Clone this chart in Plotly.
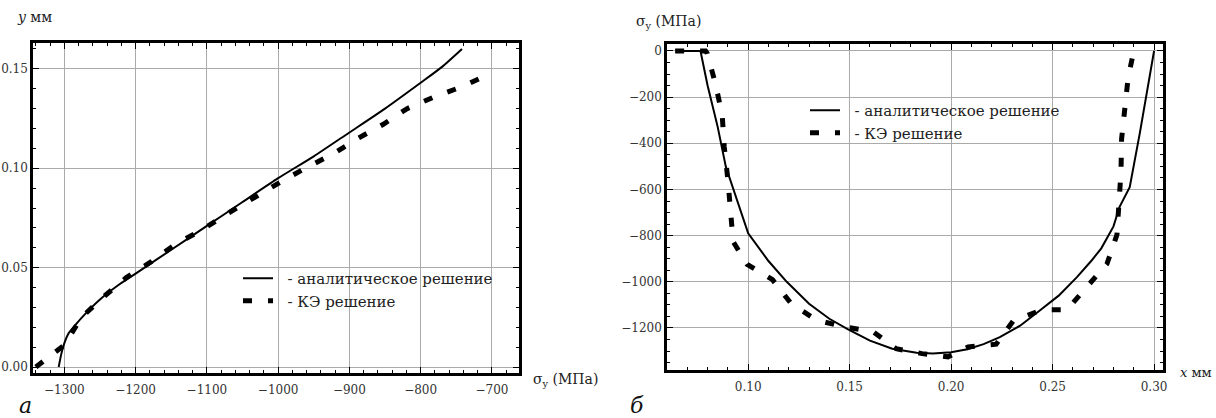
import plotly.graph_objects as go

# ---- Panel (а): y vs sigma_y ----
a_analytic_sigma = [-1308, -1304, -1300, -1294, -1285, -1270, -1250, -1225, -1200, -1150, -1100,
                    -1050, -1000, -950, -900, -850, -800, -770, -742]
a_analytic_y = [0.000, 0.007, 0.012, 0.017, 0.021, 0.027, 0.034, 0.041, 0.047, 0.059, 0.071,
                0.083, 0.095, 0.106, 0.118, 0.130, 0.143, 0.151, 0.160]
a_fe_sigma = [-1340, -1300, -1276, -1246, -1213, -1178, -1143, -1107, -1072, -1035,
              -997, -962, -924, -888, -853, -819, -780, -742, -700]
a_fe_y = [0.000, 0.011, 0.025, 0.035, 0.045, 0.053, 0.062, 0.069, 0.077, 0.085,
          0.093, 0.100, 0.107, 0.115, 0.122, 0.130, 0.136, 0.141, 0.148]

# ---- Panel (б): sigma_y vs x ----
b_analytic_x = [0.066, 0.0765, 0.080, 0.085, 0.089, 0.094, 0.100, 0.110, 0.119, 0.130,
                0.140, 0.149, 0.160, 0.171, 0.183, 0.191, 0.200, 0.208, 0.216, 0.224,
                0.234, 0.244, 0.253, 0.262, 0.269, 0.274, 0.280, 0.283, 0.288, 0.293, 0.300]
b_analytic_s = [0, 0, -150, -330, -502, -630, -790, -910, -1000, -1095,
                -1160, -1205, -1255, -1290, -1307, -1310, -1305, -1292, -1270, -1240,
                -1190, -1122, -1060, -980, -910, -855, -760, -675, -590, -355, 0]
b_fe_x = [0.064, 0.079, 0.0798, 0.0838, 0.0872, 0.0882, 0.090, 0.0911, 0.0926, 0.0995,
          0.112, 0.1212, 0.1335, 0.147, 0.1616, 0.1729, 0.1857, 0.1985, 0.2084, 0.2222,
          0.2306, 0.2448, 0.257, 0.267, 0.2768, 0.2817, 0.2837, 0.284, 0.2857, 0.2872, 0.290]
b_fe_s = [0, 0, -10, -140, -277, -415, -558, -680, -826, -925,
          -991, -1095, -1165, -1195, -1216, -1290, -1311, -1325, -1282, -1270,
          -1169, -1121, -1121, -1021, -922, -796, -524, -381, -247, -117, 0]

name_analytic = "\u00a0\u00a0- аналитическое решение"
name_fe = "\u00a0\u00a0- КЭ решение"

SERIF = "DejaVu Serif"
W, H = 1216, 418

fig = go.Figure()
fig.add_trace(go.Scatter(x=a_analytic_sigma, y=a_analytic_y, mode="lines", name=name_analytic,
                         line=dict(color="black", width=2, shape="spline", smoothing=0.6),
                         xaxis="x", yaxis="y", legend="legend"))
fig.add_trace(go.Scatter(x=a_fe_sigma, y=a_fe_y, mode="lines", name=name_fe,
                         line=dict(color="black", width=5, dash="9px,16px"), xaxis="x", yaxis="y",
                         legend="legend"))
fig.add_trace(go.Scatter(x=b_analytic_x, y=b_analytic_s, mode="lines", name=name_analytic,
                         line=dict(color="black", width=2), xaxis="x2", yaxis="y2", legend="legend2"))
fig.add_trace(go.Scatter(x=b_fe_x, y=b_fe_s, mode="lines", name=name_fe,
                         line=dict(color="black", width=5, dash="9px,16px"), xaxis="x2", yaxis="y2",
                         legend="legend2"))

axis_common = dict(showline=True, linecolor="black", linewidth=2.5, mirror="ticks",
                   ticks="inside", ticklen=6, tickcolor="black", tickwidth=1,
                   showgrid=True, gridcolor="#aaaaaa", gridwidth=1, zeroline=False,
                   automargin=False,
                   tickfont=dict(family=SERIF, size=12, color="#333"))

def px_to_xdom(a, b):
    return [a / W, b / W]

def px_to_ydom(top, bottom):
    return [1 - bottom / H, 1 - top / H]

minor_common = dict(ticklen=3, ticks="inside", tickcolor="black", showgrid=False)

fig.update_layout(
    width=W, height=H, margin=dict(l=0, r=0, t=0, b=0),
    paper_bgcolor="white", plot_bgcolor="white",
    font=dict(family=SERIF, size=15, color="#222"),
    xaxis=dict(axis_common, domain=px_to_xdom(33, 519), range=[-1344, -662], dtick=100,
               ticklabelstandoff=4, minor=dict(minor_common, dtick=20), anchor="y"),
    yaxis=dict(axis_common, domain=px_to_ydom(43, 373), range=[-0.003, 0.163], dtick=0.05,
               tickformat=".2f", minor=dict(minor_common, dtick=0.01), anchor="x"),
    xaxis2=dict(axis_common, domain=px_to_xdom(667, 1163), range=[0.060, 0.3044], dtick=0.05,
                ticklabelstandoff=4, tickformat=".2f", minor=dict(minor_common, dtick=0.01),
                anchor="y2"),
    yaxis2=dict(axis_common, domain=px_to_ydom(44, 370), range=[-1382, 30], dtick=200,
                minor=dict(minor_common, dtick=50), anchor="x2"),
    showlegend=True,
    legend=dict(x=238 / W, y=1 - 262 / H, xanchor="left", yanchor="top",
                bgcolor="rgba(0,0,0,0)", font=dict(family=SERIF, size=15, color="#222"),
                tracegroupgap=0),
    legend2=dict(x=805 / W, y=1 - 94 / H, xanchor="left", yanchor="top",
                 bgcolor="rgba(0,0,0,0)", font=dict(family=SERIF, size=15, color="#222"),
                 tracegroupgap=0),
)

annots = [
    dict(text="<i>y</i> мм", x=15, y=17, size=14),
    dict(text="σ<sub>y</sub> (МПа)", x=531, y=380, size=14),
    dict(text="σ<sub>y</sub> (МПа)", x=634, y=22, size=14),
    dict(text="<i>x</i> мм", x=1178, y=372, size=13),
]
for a in annots:
    fig.add_annotation(text=a["text"], x=a["x"] / W, y=1 - a["y"] / H, xref="paper", yref="paper",
                       xanchor="left", yanchor="middle", showarrow=False,
                       font=dict(family=SERIF, size=a["size"], color="#222"))
for t, x in [("а", 17), ("б", 628)]:
    fig.add_annotation(text="<i>" + t + "</i>", x=x / W, y=1 - 405 / H, xref="paper", yref="paper",
                       xanchor="left", yanchor="middle", showarrow=False,
                       font=dict(family=SERIF, size=22, color="#111"))

fig.write_html("out.html", config={"displayModeBar": False},
               post_script="document.body.style.margin='0px';")
